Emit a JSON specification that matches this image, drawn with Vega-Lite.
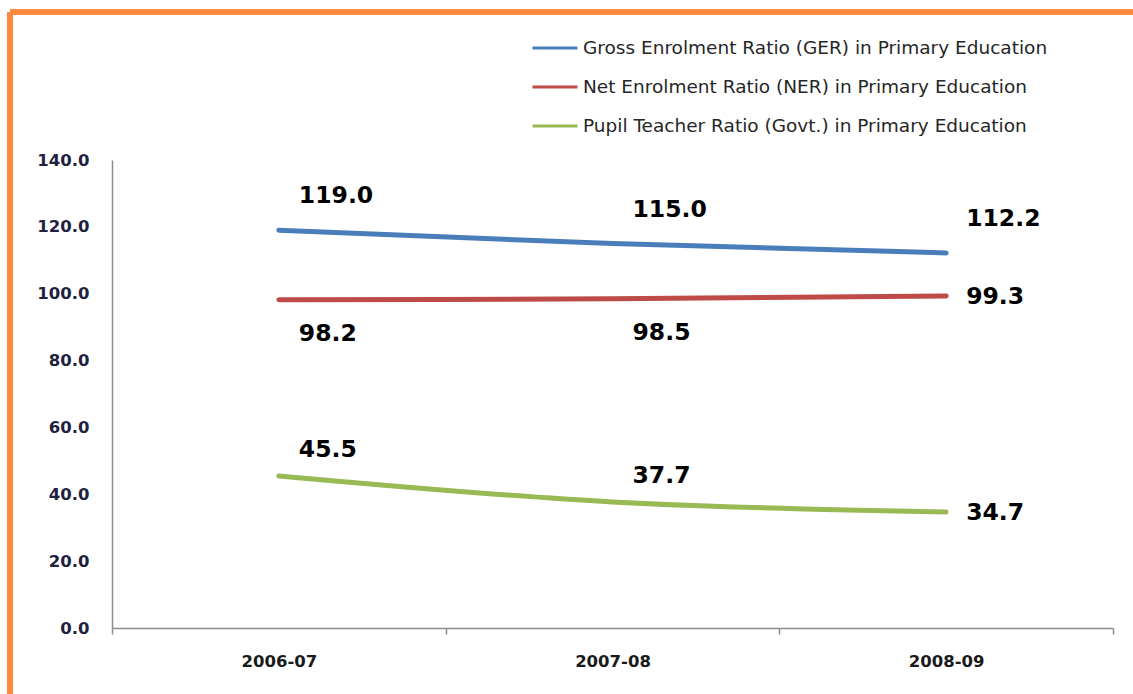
{
  "$schema": "https://vega.github.io/schema/vega-lite/v6.json",
  "autosize": "none",
  "width": 1123,
  "height": 682,
  "padding": {"left": 10, "top": 12, "right": 0, "bottom": 0},
  "background": "#ffffff",
  "config": {
    "view": {"fill": "#ffffff", "stroke": "#ff8a3d", "strokeWidth": 6, "strokeDash": [1123, 1805, 682, 0]},
    "font": "DejaVu Sans"
  },
  "data": {
    "values": [
      {"year": "2006-07", "series": "Gross Enrolment Ratio (GER) in Primary Education", "value": 119.0},
      {"year": "2007-08", "series": "Gross Enrolment Ratio (GER) in Primary Education", "value": 115.0},
      {"year": "2008-09", "series": "Gross Enrolment Ratio (GER) in Primary Education", "value": 112.2},
      {"year": "2006-07", "series": "Net Enrolment Ratio (NER) in Primary Education", "value": 98.2},
      {"year": "2007-08", "series": "Net Enrolment Ratio (NER) in Primary Education", "value": 98.5},
      {"year": "2008-09", "series": "Net Enrolment Ratio (NER) in Primary Education", "value": 99.3},
      {"year": "2006-07", "series": "Pupil Teacher Ratio (Govt.) in Primary Education", "value": 45.5},
      {"year": "2007-08", "series": "Pupil Teacher Ratio (Govt.) in Primary Education", "value": 37.7},
      {"year": "2008-09", "series": "Pupil Teacher Ratio (Govt.) in Primary Education", "value": 34.7}
    ]
  },
  "encoding": {
    "x": {
      "field": "year", "type": "nominal",
      "scale": {"type": "band", "paddingInner": 0, "paddingOuter": 0, "range": [102, 1103]},
      "axis": {
        "title": null, "offset": -66, "tickBand": "extent", "tickSize": 6, "tickWidth": 1.5,
        "tickColor": "#8c8c8c", "domainColor": "#8c8c8c", "domainWidth": 1.5,
        "labelFont": "DejaVu Sans", "labelFontWeight": "bold", "labelFontSize": 16.5,
        "labelColor": "#1a1a1a", "labelPadding": 19, "labelAngle": 0, "grid": false
      }
    },
    "y": {
      "field": "value", "type": "quantitative",
      "scale": {"domain": [0, 140], "nice": false, "range": [616, 148]},
      "axis": {
        "title": null, "offset": -102, "values": [0, 20, 40, 60, 80, 100, 120, 140], "format": ".1f",
        "ticks": false, "labelPadding": 23, "domainColor": "#8c8c8c", "domainWidth": 1.5,
        "labelFont": "DejaVu Sans", "labelFontWeight": "bold", "labelFontSize": 16.5,
        "labelColor": "#1e2140", "grid": false
      }
    }
  },
  "layer": [
    {
      "mark": {"type": "line", "strokeWidth": 5, "strokeCap": "round", "interpolate": "monotone"},
      "encoding": {
        "color": {
          "field": "series", "type": "nominal",
          "scale": {
            "domain": ["Gross Enrolment Ratio (GER) in Primary Education", "Net Enrolment Ratio (NER) in Primary Education", "Pupil Teacher Ratio (Govt.) in Primary Education"],
            "range": ["#4a7ebb", "#be4b48", "#98b954"]
          },
          "legend": {
            "title": null, "orient": "none", "legendX": 532, "legendY": 23, "padding": 0,
            "symbolType": "M-2,0H2", "symbolSize": 506, "symbolStrokeWidth": 3, "symbolFillColor": "transparent",
            "labelOffset": 15, "labelFont": "DejaVu Sans", "labelFontSize": 18.5, "labelColor": "#262626",
            "rowPadding": 16, "labelLimit": 600
          }
        }
      }
    },
    {
      "transform": [{"filter": "datum.series == 'Gross Enrolment Ratio (GER) in Primary Education'"}],
      "mark": {"type": "text", "align": "left", "baseline": "middle", "dx": 20, "dy": -34, "fontSize": 23.5, "fontWeight": "bold", "font": "DejaVu Sans", "color": "#000000"},
      "encoding": {"text": {"field": "value", "type": "quantitative", "format": ".1f"}}
    },
    {
      "transform": [{"filter": "datum.series == 'Pupil Teacher Ratio (Govt.) in Primary Education' && datum.year != '2008-09'"}],
      "mark": {"type": "text", "align": "left", "baseline": "middle", "dx": 20, "dy": -26, "fontSize": 23.5, "fontWeight": "bold", "font": "DejaVu Sans", "color": "#000000"},
      "encoding": {"text": {"field": "value", "type": "quantitative", "format": ".1f"}}
    },
    {
      "transform": [{"filter": "datum.series == 'Net Enrolment Ratio (NER) in Primary Education' && datum.year != '2008-09'"}],
      "mark": {"type": "text", "align": "left", "baseline": "middle", "dx": 20, "dy": 34, "fontSize": 23.5, "fontWeight": "bold", "font": "DejaVu Sans", "color": "#000000"},
      "encoding": {"text": {"field": "value", "type": "quantitative", "format": ".1f"}}
    },
    {
      "transform": [{"filter": "datum.series != 'Gross Enrolment Ratio (GER) in Primary Education' && datum.year == '2008-09'"}],
      "mark": {"type": "text", "align": "left", "baseline": "middle", "dx": 20, "dy": 1, "fontSize": 23.5, "fontWeight": "bold", "font": "DejaVu Sans", "color": "#000000"},
      "encoding": {"text": {"field": "value", "type": "quantitative", "format": ".1f"}}
    }
  ]
}
